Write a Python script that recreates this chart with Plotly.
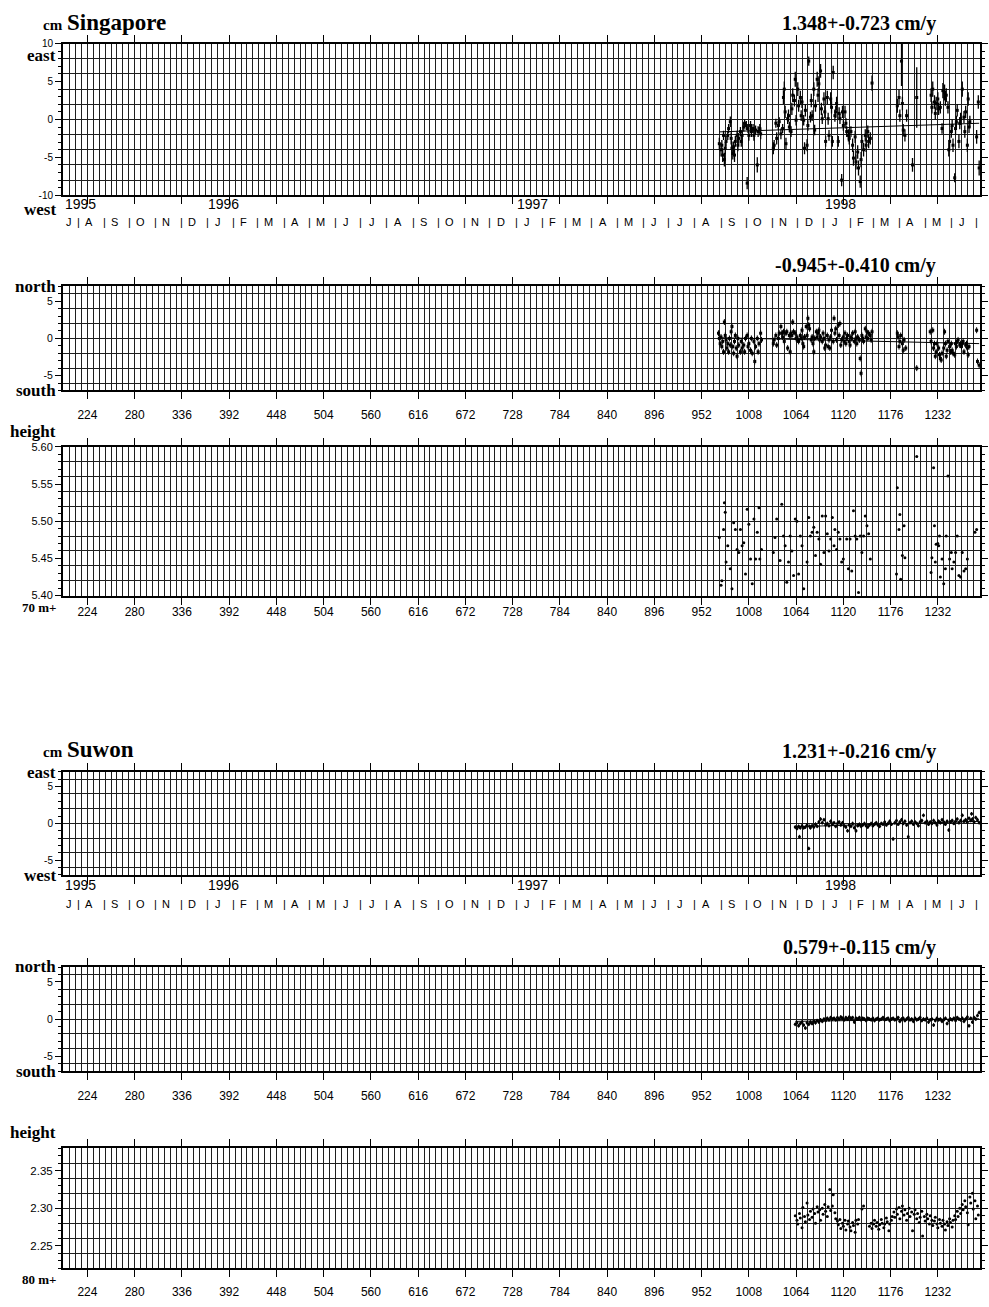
import datetime as dt
import plotly.graph_objects as go

# ------------------------------------------------------------------
# page / frame geometry
# ------------------------------------------------------------------
W, H = 989, 1307
PLOT_LEFT, PLOT_RIGHT = 63, 980
DAY_MIN, DAY_MAX = 195, 1282          # day 1 = 1 Jan 1995
DAY_TICKS = list(range(224, 1233, 56))
EPOCH = dt.date(1994, 12, 31)

SANS = "Liberation Sans, Arial, Helvetica, sans-serif"
SERIF = "Liberation Serif, Times New Roman, serif"
INK = "black"
GRID = "#1e1e1e"

# ------------------------------------------------------------------
# Singapore daily solutions
# ------------------------------------------------------------------
SGP_E_RATE, SGP_E_RATE_ERR = 1.348, 0.723
SGP_N_RATE, SGP_N_RATE_ERR = -0.945, 0.410
SGP_E_FIT_START = -1.64      # east fit value at first day (cm)
SGP_N_FIT_START = 0.10       # north fit value at first day (cm)

sgp_e_day = [
    973, 975, 976, 977, 978, 979, 980, 981, 983, 984,
    986, 987, 988, 989, 990, 991, 992, 994, 995, 996,
    998, 999, 1000, 1002, 1003, 1005, 1006, 1007, 1008, 1010,
    1011, 1013, 1014, 1016, 1018, 1019, 1021, 1022, 1037, 1038,
    1040, 1041, 1043, 1044, 1046, 1048, 1049, 1050, 1051, 1052,
    1054, 1055, 1056, 1058, 1059, 1060, 1062, 1063, 1064, 1066,
    1067, 1069, 1070, 1071, 1073, 1074, 1075, 1077, 1078, 1079,
    1081, 1082, 1083, 1085, 1086, 1087, 1089, 1090, 1091, 1093,
    1094, 1095, 1097, 1098, 1099, 1101, 1102, 1103, 1105, 1106,
    1107, 1108, 1110, 1111, 1112, 1114, 1115, 1116, 1118, 1119,
    1120, 1122, 1123, 1124, 1126, 1127, 1129, 1131, 1132, 1134,
    1135, 1137, 1138, 1140, 1141, 1142, 1144, 1146, 1147, 1149,
    1150, 1152, 1154, 1184, 1186, 1187, 1189, 1190, 1191, 1193,
    1195, 1202, 1207, 1224, 1225, 1226, 1228, 1229, 1230, 1232,
    1233, 1235, 1237, 1238, 1240, 1241, 1242, 1244, 1245, 1246,
    1248, 1249, 1250, 1252, 1253, 1254, 1255, 1257, 1258, 1259,
    1261, 1263, 1264, 1265, 1267, 1268, 1269, 1270, 1278, 1280,
    1281,
]
sgp_e_cm = [
    -3.2, -4.0, -3.4, -4.7, -2.1, -5.3, -3.8, -2.9, -2.1, -1.2,
    -0.3, -2.5, -3.8, -4.5, -3.6, -4.7, -2.9, -2.1, -3.4, -2.5,
    -1.6, -2.9, -2.1, -1.0, -0.5, -0.8, -8.4, -1.2, -2.1, -0.8,
    -1.6, -1.2, -2.1, -1.4, -6.0, -1.6, -1.2, -1.9, -3.8, -3.4,
    -0.5, -2.5, -0.8, -0.3, -1.9, -1.2, 2.9, 4.0, 1.0, -3.2,
    0.1, 0.5, -1.0, -1.6, 1.4, 3.2, 2.5, 5.3, -0.1, 4.0,
    1.8, 2.9, 0.5, 2.3, -0.1, -3.8, 1.2, -3.4, -0.8, 7.7,
    0.3, 2.5, 0.5, 4.0, -1.4, 1.8, 5.3, 3.2, 4.7, 6.4,
    1.4, 0.1, 2.7, 1.0, -2.9, 2.9, 0.1, -2.1, 2.7, 1.6,
    -2.9, 6.2, 0.5, 1.0, 2.1, -2.9, 0.8, 0.1, -8.0, 1.0,
    -0.8, 1.0, -0.5, -1.6, -2.1, -2.5, -1.6, -3.4, -5.1, -2.3,
    -5.6, -4.3, -6.4, -8.2, -5.3, -2.9, -4.0, -2.1, -3.4, -1.6,
    -2.9, -2.5, 4.8, 1.8, 2.9, 0.5, 7.7, 2.1, -1.4, -2.1,
    0.5, -6.0, 2.9, 3.2, 1.6, 4.0, 2.3, 0.8, 2.1, 2.7,
    1.4, 1.6, -1.2, 3.8, 3.6, 2.7, 3.2, 1.6, -4.0, -2.9,
    -1.6, -0.8, -3.4, -7.7, -1.2, -0.3, 1.2, -2.9, -0.5, 0.1,
    4.0, 0.3, -1.6, 1.0, -3.4, 2.7, -1.0, -0.3, -2.3, 2.3,
    -6.4,
]
sgp_e_sig = [
    0.8, 0.9, 0.7, 0.9, 0.6, 0.9, 0.8, 0.7, 0.6, 0.6,
    0.7, 0.8, 0.9, 0.8, 0.7, 0.9, 0.7, 0.6, 0.8, 0.7,
    0.6, 0.7, 0.6, 0.6, 0.5, 0.6, 0.8, 0.6, 0.7, 0.6,
    0.7, 0.6, 0.7, 0.6, 1.0, 0.7, 0.6, 0.7, 0.8, 0.7,
    0.6, 0.8, 0.6, 0.6, 0.7, 0.6, 0.9, 1.0, 0.8, 0.8,
    0.7, 0.8, 0.7, 0.7, 0.8, 0.9, 0.8, 1.0, 0.7, 0.9,
    0.8, 0.9, 0.7, 0.8, 0.7, 0.8, 0.8, 0.8, 0.7, 0.6,
    0.7, 0.9, 0.7, 0.9, 0.7, 0.8, 1.0, 0.9, 1.0, 0.9,
    0.8, 0.7, 0.9, 0.8, 0.7, 0.9, 0.8, 0.7, 0.9, 0.8,
    0.7, 0.9, 0.8, 0.8, 0.9, 0.7, 0.8, 0.7, 0.8, 0.8,
    0.7, 0.8, 0.7, 0.7, 0.8, 0.8, 0.7, 0.9, 1.0, 0.8,
    1.0, 0.9, 1.0, 0.8, 1.0, 0.9, 0.9, 0.8, 0.9, 0.8,
    0.9, 0.8, 1.0, 0.9, 1.0, 0.8, 3.3, 0.9, 0.8, 0.8,
    0.8, 0.9, 4.0, 0.9, 0.8, 1.0, 0.9, 0.8, 0.9, 0.9,
    0.8, 0.8, 0.7, 1.0, 1.0, 0.9, 0.9, 0.8, 0.9, 0.9,
    0.8, 0.8, 0.9, 0.6, 0.8, 0.8, 0.8, 0.9, 0.8, 0.8,
    1.0, 0.8, 0.8, 0.8, 0.9, 0.9, 0.8, 0.8, 0.9, 0.9,
    1.0,
]

sgp_n_day = [
    972, 973, 974, 975, 976, 977, 978, 979, 980, 981,
    982, 983, 984, 985, 986, 987, 988, 989, 990, 991,
    992, 993, 994, 995, 996, 998, 999, 1000, 1002, 1003,
    1004, 1006, 1007, 1008, 1010, 1011, 1012, 1014, 1015, 1016,
    1018, 1019, 1020, 1022, 1023,
    1037, 1038, 1040, 1041, 1043, 1044, 1046, 1047, 1048, 1049,
    1050, 1052, 1053, 1054, 1056, 1057, 1058, 1059, 1060, 1061,
    1063, 1064, 1065, 1066, 1067, 1069, 1070, 1071, 1072, 1073,
    1074, 1076, 1077, 1078, 1079, 1080, 1082, 1083, 1084, 1085,
    1086, 1088, 1089, 1090, 1091, 1092, 1093, 1095, 1096, 1097,
    1098, 1099, 1101, 1102, 1103, 1104, 1105, 1106, 1108, 1109,
    1110, 1111, 1112, 1114, 1115, 1116, 1117, 1118, 1120, 1121,
    1122, 1123, 1124, 1125, 1127, 1128, 1129, 1130, 1131, 1133,
    1134, 1135, 1136, 1137, 1139, 1140, 1141, 1142, 1143, 1144,
    1146, 1147, 1148, 1149, 1150, 1152, 1153, 1154,
    1184, 1185, 1186, 1187, 1188, 1190, 1191, 1192, 1194, 1207,
    1223, 1224, 1226, 1227, 1228, 1229, 1230, 1231, 1233, 1234,
    1235, 1236, 1237, 1239, 1240, 1241, 1242, 1243, 1244, 1246,
    1247, 1248, 1249, 1250, 1252, 1253, 1254, 1255, 1256, 1258,
    1259, 1260, 1261, 1262, 1263, 1265, 1266, 1267, 1268, 1269,
    1278, 1279, 1281,
]
sgp_n_cm = [
    0.7, 0.0, -0.7, 0.2, -1.1, -0.4, -1.8, 2.2, 0.4, -0.2,
    -1.3, -0.7, -1.8, 0.0, -0.9, 0.9, 1.6, -1.1, -2.0, -0.4,
    0.4, -1.3, -2.4, 0.0, -0.9, -1.8, -0.4, -1.3, -0.9, -1.8,
    0.0, 0.4, -1.1, -0.7, -1.6, 0.0, -2.0, -0.4, -3.1, -1.1,
    0.0, -1.8, -0.7, 0.7, -0.2,
    -0.7, -0.2, 0.4, -0.9, 0.0, 0.7, 1.6, 0.7, 0.2, 0.9,
    -0.4, 0.7, 0.9, -1.3, 0.4, -1.8, 0.7, 0.4, 2.2, 0.9,
    0.7, 0.0, 0.2, -0.2, -0.4, 0.4, 0.0, 1.1, -0.7, -1.1,
    0.2, 1.6, 0.4, 2.7, 1.8, 1.3, -0.2, 0.2, -0.7, -1.8,
    0.0, 0.9, 0.2, 0.7, 1.1, -0.2, 0.2, -0.4, 0.7, 0.0,
    -1.3, -0.9, 0.4, -1.1, -0.2, -1.3, 0.2, 1.1, -0.4, 2.7,
    0.7, 1.3, -0.2, 1.8, 0.4, 2.0, -0.9, -0.2, 0.2, -0.4,
    0.7, -0.7, 0.0, 0.4, -0.4, -0.9, 0.2, 0.0, 0.7, -0.4,
    0.9, 0.0, -0.7, 0.2, -0.2, -2.7, -4.7, 0.4, 0.0, -0.4,
    1.3, 0.2, 0.9, 0.0, 0.7, 0.4, -0.2, 0.9,
    0.7, 0.2, -1.1, -0.4, 0.4, -0.7, -1.6, -0.2, -1.3, -4.0,
    0.9, -0.4, 1.1, -1.3, -0.7, -2.4, -1.8, -0.7, -1.3, -2.2,
    -2.7, -2.9, -2.0, -1.3, 0.9, -0.7, -2.4, -1.6, -0.4, -1.1,
    -1.8, -0.7, -1.6, -2.0, -2.2, -0.7, -1.1, -0.4, -0.2, -0.9,
    -0.7, -1.1, -0.7, -0.4, -1.8, -0.9, -0.7, -1.3, -2.2, -1.1,
    1.1, -3.1, -3.6,
]
SGP_N_SIG = 0.4

sgp_h_day = [
    973, 975, 976, 978, 979, 980, 981, 983, 986, 988,
    990, 992, 994, 996, 998, 1000, 1002, 1004, 1006, 1008,
    1010, 1012, 1014, 1016, 1018, 1020, 1021, 1023,
    1037, 1039, 1041, 1045, 1047, 1049, 1051, 1053, 1055, 1057,
    1059, 1061, 1063, 1065, 1067, 1069, 1071, 1073, 1077, 1079,
    1081, 1083, 1085, 1087, 1089, 1091, 1093, 1095, 1097, 1099,
    1101, 1103, 1105, 1107, 1109, 1110, 1112, 1114, 1116, 1118,
    1120, 1123, 1124, 1126, 1128, 1130, 1132, 1134, 1136, 1138,
    1140, 1142, 1144, 1146, 1148, 1150, 1152,
    1183, 1184, 1186, 1187, 1188, 1190, 1192, 1193, 1207,
    1224, 1225, 1226, 1227, 1228, 1229, 1230, 1232, 1233, 1234,
    1235, 1237, 1239, 1241, 1242, 1244, 1246, 1248, 1249, 1251,
    1253, 1255, 1257, 1259, 1261, 1263, 1265, 1267, 1276, 1278,
    1280,
]
sgp_h_m = [
    5.478, 5.414, 5.420, 5.489, 5.525, 5.512, 5.445, 5.467, 5.436, 5.409,
    5.498, 5.489, 5.462, 5.458, 5.489, 5.467, 5.471, 5.429, 5.516, 5.496,
    5.449, 5.416, 5.503, 5.449, 5.485, 5.518, 5.449, 5.462,
    5.458, 5.478, 5.503, 5.447, 5.523, 5.480, 5.467, 5.418, 5.445, 5.480,
    5.460, 5.427, 5.503, 5.500, 5.429, 5.480, 5.467, 5.409, 5.445, 5.505,
    5.480, 5.485, 5.492, 5.454, 5.485, 5.476, 5.442, 5.507, 5.458, 5.507,
    5.483, 5.460, 5.476, 5.505, 5.467, 5.489, 5.462, 5.485, 5.476, 5.445,
    5.449, 5.396, 5.476, 5.436, 5.476, 5.433, 5.514, 5.480, 5.476, 5.404,
    5.480, 5.458, 5.480, 5.507, 5.494, 5.483, 5.449,
    5.429, 5.545, 5.489, 5.509, 5.422, 5.454, 5.494, 5.451, 5.587,
    5.431, 5.451, 5.386, 5.572, 5.494, 5.445, 5.469, 5.470, 5.467, 5.480,
    5.425, 5.449, 5.416, 5.436, 5.480, 5.561, 5.449, 5.458, 5.436, 5.445,
    5.458, 5.480, 5.427, 5.425, 5.458, 5.433, 5.436, 5.449, 5.485, 5.489,
    5.392,
]

# ------------------------------------------------------------------
# Suwon daily solutions
# ------------------------------------------------------------------
SUW_E_RATE, SUW_E_RATE_ERR = 1.231, 0.216
SUW_N_RATE, SUW_N_RATE_ERR = 0.579, 0.115
SUW_E_FIT_START = -0.45
SUW_N_FIT_START = -0.30

suw_e_day = [
    1063, 1065, 1067, 1068, 1069, 1071, 1073, 1075, 1077, 1079,
    1080, 1081, 1083, 1085, 1087, 1089, 1091, 1093, 1095, 1097,
    1099, 1101, 1103, 1105, 1107, 1109, 1111, 1113, 1115, 1117,
    1119, 1121, 1123, 1125, 1127, 1129, 1131, 1133, 1135, 1137,
    1139, 1141, 1143, 1145, 1147, 1149, 1151, 1153, 1155, 1157,
    1159, 1161, 1163, 1165, 1167, 1169, 1171, 1173, 1175, 1177,
    1179, 1181, 1183, 1185, 1187, 1189, 1191, 1193, 1195, 1197,
    1199, 1201, 1203, 1205, 1207, 1209, 1211, 1213, 1215, 1217,
    1219, 1221, 1223, 1225, 1227, 1229, 1231, 1233, 1235, 1237,
    1239, 1241, 1243, 1245, 1247, 1249, 1251, 1253, 1255, 1257,
    1259, 1261, 1263, 1265, 1267, 1269, 1271, 1272, 1273, 1275,
    1277, 1279, 1281,
]
suw_e_cm = [
    -0.5, -0.7, -0.4, -1.8, -0.6, -0.3, -0.6, -0.5, -0.2, -3.4,
    -0.4, -0.6, -0.3, -0.5, -0.1, -0.4, 0.2, 0.6, 0.1, 0.5,
    -0.2, 0.0, -0.3, 0.3, -0.1, 0.1, -0.4, 0.0, 0.2, -0.2,
    0.1, -0.3, -0.5, -1.0, -0.2, -0.4, 0.0, -0.6, -1.0, -0.3,
    -0.1, -0.4, -0.2, 0.0, -0.3, -0.5, -0.2, 0.0, -0.3, -0.1,
    0.1, -0.2, -0.4, 0.0, -0.1, 0.2, -0.2, 0.0, 0.3, -0.1,
    -2.1, 0.1, 0.4, -0.1, 0.2, 0.5, 0.0, 0.3, -0.2, -1.8,
    0.1, 0.3, -0.1, 0.2, 0.0, -0.3, 0.2, 0.4, 1.1, 0.1,
    0.3, -0.1, 0.2, 0.0, 0.4, 0.1, -0.2, 0.3, 0.1, 0.5,
    0.2, -0.1, 0.3, -0.9, 0.2, 0.4, 0.0, 0.3, 0.6, 0.1,
    0.4, 1.1, 0.3, 0.5, 0.2, 0.7, 0.4, 1.3, 0.6, 0.2,
    0.8, 0.5, 0.1,
]
SUW_E_SIG = 0.25

suw_n_day = [
    1063, 1065, 1067, 1069, 1071, 1073, 1075, 1077, 1079, 1081,
    1083, 1085, 1087, 1089, 1091, 1093, 1095, 1097, 1099, 1101,
    1103, 1105, 1107, 1109, 1111, 1113, 1115, 1117, 1119, 1121,
    1123, 1125, 1127, 1129, 1131, 1133, 1135, 1137, 1139, 1141,
    1143, 1145, 1147, 1149, 1151, 1153, 1155, 1157, 1159, 1161,
    1163, 1165, 1167, 1169, 1171, 1173, 1175, 1177, 1179, 1181,
    1183, 1185, 1187, 1189, 1191, 1193, 1195, 1197, 1199, 1201,
    1203, 1205, 1207, 1209, 1211, 1213, 1215, 1217, 1219, 1221,
    1223, 1225, 1227, 1229, 1231, 1233, 1235, 1237, 1239, 1241,
    1243, 1245, 1247, 1249, 1251, 1253, 1255, 1257, 1259, 1261,
    1263, 1265, 1267, 1269, 1271, 1273, 1275, 1277, 1279, 1281,
]
suw_n_cm = [
    -0.7, -0.5, -0.9, -0.6, -0.4, -0.8, -1.2, -0.5, -0.7, -0.4,
    -0.6, -0.3, -0.5, -0.2, -0.4, -0.1, -0.3, 0.0, -0.2, 0.1,
    -0.1, 0.2, 0.0, 0.1, -0.1, 0.2, 0.0, 0.3, 0.1, -0.1,
    0.2, 0.0, 0.3, 0.1, 0.2, -0.4, 0.1, 0.0, 0.2, -0.1,
    0.1, 0.0, -0.2, 0.1, 0.0, -0.1, 0.1, -0.2, 0.0, 0.1,
    -0.1, 0.0, 0.2, -0.1, 0.0, 0.1, -0.2, 0.0, 0.1, -0.1,
    0.0, 0.2, -0.3, 0.0, 0.1, -0.2, 0.0, 0.2, -0.1, 0.0,
    -0.3, 0.1, -0.1, 0.0, 0.2, -0.2, 0.0, -0.1, 0.1, -0.4,
    -0.1, 0.0, -0.8, -0.2, 0.1, -0.1, 0.0, -0.3, -0.1, 0.1,
    -0.6, -0.2, 0.0, -0.1, 0.1, -0.2, 0.2, 0.0, -0.1, 0.1,
    -0.3, 0.0, 0.3, -0.9, 0.1, -0.4, 0.2, 0.0, 0.5, 0.9,
]
SUW_N_SIG = 0.25

suw_h_day = [
    1063, 1065, 1066, 1068, 1069, 1071, 1072, 1074, 1075, 1077,
    1078, 1080, 1081, 1083, 1084, 1086, 1087, 1089, 1090, 1092,
    1093, 1095, 1096, 1098, 1099, 1101, 1102, 1104, 1105, 1107,
    1108, 1110, 1111, 1113, 1114, 1116, 1117, 1119, 1120, 1122,
    1123, 1125, 1126, 1128, 1129, 1131, 1132, 1134, 1135, 1137,
    1138, 1142, 1144, 1151, 1153, 1154, 1156, 1157, 1159, 1160,
    1162, 1163, 1165, 1166, 1168, 1169, 1171, 1172, 1174, 1175,
    1177, 1178, 1180, 1181, 1183, 1184, 1186, 1187, 1189, 1190,
    1192, 1193, 1195, 1196, 1198, 1199, 1201, 1202, 1204, 1205,
    1207, 1208, 1210, 1211, 1213, 1214, 1216, 1217, 1219, 1220,
    1222, 1223, 1225, 1226, 1228, 1229, 1231, 1232, 1234, 1235,
    1237, 1238, 1240, 1241, 1243, 1244, 1246, 1247, 1249, 1250,
    1252, 1253, 1255, 1256, 1258, 1259, 1261, 1262, 1264, 1265,
    1267, 1268, 1270, 1271, 1273, 1274, 1276, 1277, 1279, 1280,
]
suw_h_m = [
    2.290, 2.284, 2.279, 2.293, 2.287, 2.274, 2.301, 2.289, 2.282, 2.307,
    2.291, 2.285, 2.296, 2.288, 2.299, 2.293, 2.280, 2.302, 2.295, 2.298,
    2.284, 2.300, 2.292, 2.305, 2.296, 2.289, 2.302, 2.325, 2.297, 2.303,
    2.318, 2.294, 2.286, 2.283, 2.278, 2.285, 2.273, 2.280, 2.276, 2.284,
    2.271, 2.279, 2.283, 2.275, 2.270, 2.281, 2.277, 2.268, 2.284, 2.279,
    2.285, 2.299, 2.303, 2.276, 2.280, 2.273, 2.279, 2.284, 2.276, 2.281,
    2.272, 2.278, 2.285, 2.280, 2.274, 2.279, 2.287, 2.282, 2.270, 2.279,
    2.284, 2.289, 2.295, 2.288, 2.299, 2.292, 2.301, 2.286, 2.296, 2.303,
    2.291, 2.298, 2.284, 2.293, 2.300, 2.289, 2.295, 2.270, 2.292, 2.298,
    2.286, 2.293, 2.281, 2.288, 2.296, 2.263, 2.289, 2.283, 2.292, 2.286,
    2.279, 2.290, 2.284, 2.277, 2.283, 2.288, 2.279, 2.274, 2.285, 2.280,
    2.276, 2.284, 2.279, 2.271, 2.282, 2.277, 2.286, 2.281, 2.275, 2.284,
    2.290, 2.285, 2.296, 2.289, 2.300, 2.293, 2.305, 2.298, 2.310, 2.302,
    2.294, 2.278, 2.315, 2.307, 2.320, 2.299, 2.310, 2.286, 2.303, 2.291,
]

# ------------------------------------------------------------------
# panel definitions (pixel rows on the page, axes, series)
# ------------------------------------------------------------------
CM_TICKS_10 = [-10, -5, 0, 5, 10]
CM_TICKS_7 = [-5, 0, 5]
SGP_H_TICKS = [5.40, 5.45, 5.50, 5.55, 5.60]
SUW_H_TICKS = [2.25, 2.30, 2.35]


def fmt_cm(v):
    return "%d" % v


PANELS = [
    dict(top=38, bottom=191, yrange=[-10, 10], yticks=CM_TICKS_10,
         ytext=[fmt_cm(v) for v in CM_TICKS_10], minor=1, grid=2, grid0=0,
         day_labels=False, standoff=0, yfont=10,
         day=sgp_e_day, val=sgp_e_cm, sig=sgp_e_sig, marker="square",
         fit=(SGP_E_FIT_START, SGP_E_RATE)),
    dict(top=283, bottom=388, yrange=[-7, 7], yticks=CM_TICKS_7,
         ytext=[fmt_cm(v) for v in CM_TICKS_7], minor=1, grid=2, grid0=0,
         day_labels=True, standoff=5, yfont=10.5,
         day=sgp_n_day, val=sgp_n_cm, sig=SGP_N_SIG, marker="square",
         fit=(SGP_N_FIT_START, SGP_N_RATE)),
    dict(top=445, bottom=595, yrange=[5.40, 5.60], yticks=SGP_H_TICKS,
         ytext=["%.2f" % v for v in SGP_H_TICKS], minor=0.01, grid=0.02, grid0=5.40,
         day_labels=True, standoff=-3, yfont=11,
         day=sgp_h_day, val=sgp_h_m, sig=None, marker="circle", fit=None),
    dict(top=773, bottom=877, yrange=[-7, 7], yticks=CM_TICKS_7,
         ytext=[fmt_cm(v) for v in CM_TICKS_7], minor=1, grid=2, grid0=0,
         day_labels=False, standoff=0, yfont=10,
         day=suw_e_day, val=suw_e_cm, sig=SUW_E_SIG, marker="circle",
         fit=(SUW_E_FIT_START, SUW_E_RATE)),
    dict(top=970, bottom=1075, yrange=[-7, 7], yticks=CM_TICKS_7,
         ytext=[fmt_cm(v) for v in CM_TICKS_7], minor=1, grid=2, grid0=0,
         day_labels=True, standoff=5, yfont=10.5,
         day=suw_n_day, val=suw_n_cm, sig=SUW_N_SIG, marker="circle",
         fit=(SUW_N_FIT_START, SUW_N_RATE)),
    dict(top=1153, bottom=1274, yrange=[2.22, 2.38], yticks=SUW_H_TICKS,
         ytext=["%.2f" % v for v in SUW_H_TICKS], minor=0.01, grid=0.02, grid0=2.22,
         day_labels=True, standoff=4, yfont=11.5,
         day=suw_h_day, val=suw_h_m, sig=None, marker="circle", fit=None),
]


def axid(letter, i):
    return letter if i == 1 else f"{letter}{i}"


def axkey(letter, i):
    return f"{letter}axis" if i == 1 else f"{letter}axis{i}"


fig = go.Figure()
layout = dict(width=W, height=H, margin=dict(l=0, r=0, t=0, b=0, pad=0),
              paper_bgcolor="white", plot_bgcolor="white", showlegend=False)
n = len(PANELS)

for i, p in enumerate(PANELS, start=1):
    assert len(p["day"]) == len(p["val"])
    xa, ya = axid("x", i), axid("y", i)
    grid_y = i + n
    dom_y = [1 - p["bottom"] / H, 1 - p["top"] / H]

    layout[axkey("x", i)] = dict(
        domain=[PLOT_LEFT / W, PLOT_RIGHT / W], range=[DAY_MIN, DAY_MAX],
        anchor=ya, tickmode="array", tickvals=DAY_TICKS,
        ticktext=[str(t) for t in DAY_TICKS], showticklabels=p["day_labels"],
        ticks="outside", ticklen=7, tickwidth=1, tickcolor=INK,
        showline=True, linecolor=INK, linewidth=2, mirror="ticks",
        showgrid=True, gridcolor=GRID, gridwidth=1, zeroline=False,
        minor=dict(tickmode="linear", tick0=0, dtick=7, showgrid=True,
                   gridcolor=GRID, gridwidth=1, ticks=""),
        tickfont=dict(family=SANS, size=12, color=INK),
        ticklabelstandoff=p["standoff"], fixedrange=True,
    )
    layout[axkey("y", i)] = dict(
        domain=dom_y, range=p["yrange"], anchor=xa,
        tickmode="array", tickvals=p["yticks"], ticktext=p["ytext"],
        ticks="outside", ticklen=6, tickwidth=1, tickcolor=INK,
        minor=dict(tickmode="linear", tick0=p["grid0"], dtick=p["minor"],
                   ticks="outside", ticklen=3, tickwidth=1, tickcolor=INK,
                   showgrid=False),
        showline=True, linecolor=INK, linewidth=2, mirror="ticks",
        showgrid=False, zeroline=False,
        tickfont=dict(family=SANS, size=p["yfont"], color=INK), fixedrange=True,
    )
    # companion axis carrying the horizontal grid
    layout[axkey("y", grid_y)] = dict(
        overlaying=ya, anchor=xa, range=p["yrange"], tickmode="linear",
        tick0=p["grid0"], dtick=p["grid"], showgrid=True, gridcolor=GRID,
        gridwidth=1, showticklabels=False, ticks="", showline=False,
        zeroline=False, side="right", fixedrange=True,
    )
    fig.add_trace(go.Scatter(x=[None], y=[None], xaxis=xa, yaxis=axid("y", grid_y),
                             mode="markers", hoverinfo="skip"))

    err = None
    if isinstance(p["sig"], list):
        err = dict(type="data", array=p["sig"], visible=True, color=INK,
                   thickness=1.3, width=0)
    elif p["sig"] is not None:
        err = dict(type="constant", value=p["sig"], visible=True, color=INK,
                   thickness=1, width=0)

    fig.add_trace(go.Scatter(
        x=p["day"], y=p["val"], xaxis=xa, yaxis=ya, mode="markers",
        marker=dict(symbol=p["marker"], size=3, color=INK, line=dict(width=0)),
        error_y=err, cliponaxis=False, hoverinfo="x+y",
    ))

    if p["fit"] is not None:
        y0, rate = p["fit"]
        d0, d1 = p["day"][0], p["day"][-1]
        fig.add_trace(go.Scatter(
            x=[d0, d1], y=[y0, y0 + rate * (d1 - d0) / 365.25],
            xaxis=xa, yaxis=ya, mode="lines", line=dict(color=INK, width=1),
            hoverinfo="skip",
        ))

# ------------------------------------------------------------------
# text
# ------------------------------------------------------------------
ann = []


def label(x, y, text, size, xanchor="left", family=SERIF, bold=True):
    ann.append(dict(xref="paper", yref="paper", x=x / W, y=1 - y / H,
                    text=f"<b>{text}</b>" if bold else text, showarrow=False,
                    xanchor=xanchor, yanchor="middle", borderpad=0,
                    font=dict(family=family, size=size, color=INK)))


def rate_text(rate, err):
    return f"{rate:.3f}+-{err:.3f} cm/y"


MONTH_LETTERS = "JFMAMJJASOND"
YEARS = [1995, 1996, 1997, 1998]


def day_of(d):
    return (d - EPOCH).days


month_starts = []
yy, mm = 1995, 7
while (yy, mm) <= (1998, 8):
    month_starts.append((day_of(dt.date(yy, mm, 1)), MONTH_LETTERS[mm - 1]))
    mm += 1
    if mm == 13:
        yy, mm = yy + 1, 1


def calendar_rows(xref, y_year, y_month):
    for yr in YEARS:
        d = max(day_of(dt.date(yr, 1, 1)), DAY_MIN + 1)
        ann.append(dict(xref=xref, yref="paper", x=d, y=1 - y_year / H, text=str(yr),
                        showarrow=False, xanchor="left", yanchor="middle", borderpad=0,
                        font=dict(family=SANS, size=14, color=INK)))
    for k in range(len(month_starts) - 1):
        s, letter = month_starts[k]
        e = month_starts[k + 1][0]
        a, b = max(s, DAY_MIN), min(e, DAY_MAX)
        if s > DAY_MIN:
            ann.append(dict(xref=xref, yref="paper", x=s, y=1 - y_month / H, text="|",
                            showarrow=False, xanchor="center", yanchor="middle",
                            borderpad=0, font=dict(family=SANS, size=11, color=INK)))
        if b - a > 10:
            ann.append(dict(xref=xref, yref="paper", x=a + 0.42 * (b - a),
                            y=1 - y_month / H, text=letter, showarrow=False,
                            xanchor="center", yanchor="middle", borderpad=0,
                            font=dict(family=SANS, size=11, color=INK)))


# Singapore
label(64, 19.5, "cm", 15, xanchor="right")
label(66, 16.5, "Singapore", 23)
label(937, 18, rate_text(SGP_E_RATE, SGP_E_RATE_ERR), 20, xanchor="right")
label(57, 50, "east", 17, xanchor="right")
label(57, 205.5, "west", 17, xanchor="right")
label(937, 262, rate_text(SGP_N_RATE, SGP_N_RATE_ERR), 20, xanchor="right")
label(57, 283, "north", 17, xanchor="right")
label(57, 388, "south", 17, xanchor="right")
label(57, 429.5, "height", 17, xanchor="right")
label(58, 607.5, "70 m+", 13, xanchor="right")
calendar_rows("x", 200, 218)

# Suwon
label(64, 753, "cm", 15, xanchor="right")
label(66, 750.5, "Suwon", 23)
label(937, 752, rate_text(SUW_E_RATE, SUW_E_RATE_ERR), 20, xanchor="right")
label(57, 773.5, "east", 17, xanchor="right")
label(57, 878, "west", 17, xanchor="right")
label(937, 950, rate_text(SUW_N_RATE, SUW_N_RATE_ERR), 20, xanchor="right")
label(57, 969.5, "north", 17, xanchor="right")
label(57, 1075, "south", 17, xanchor="right")
label(57, 1137, "height", 17, xanchor="right")
label(58, 1285, "80 m+", 13, xanchor="right")
calendar_rows("x4", 887, 906)

layout["annotations"] = ann
fig.update_layout(**layout)
fig.write_html("out.html")
